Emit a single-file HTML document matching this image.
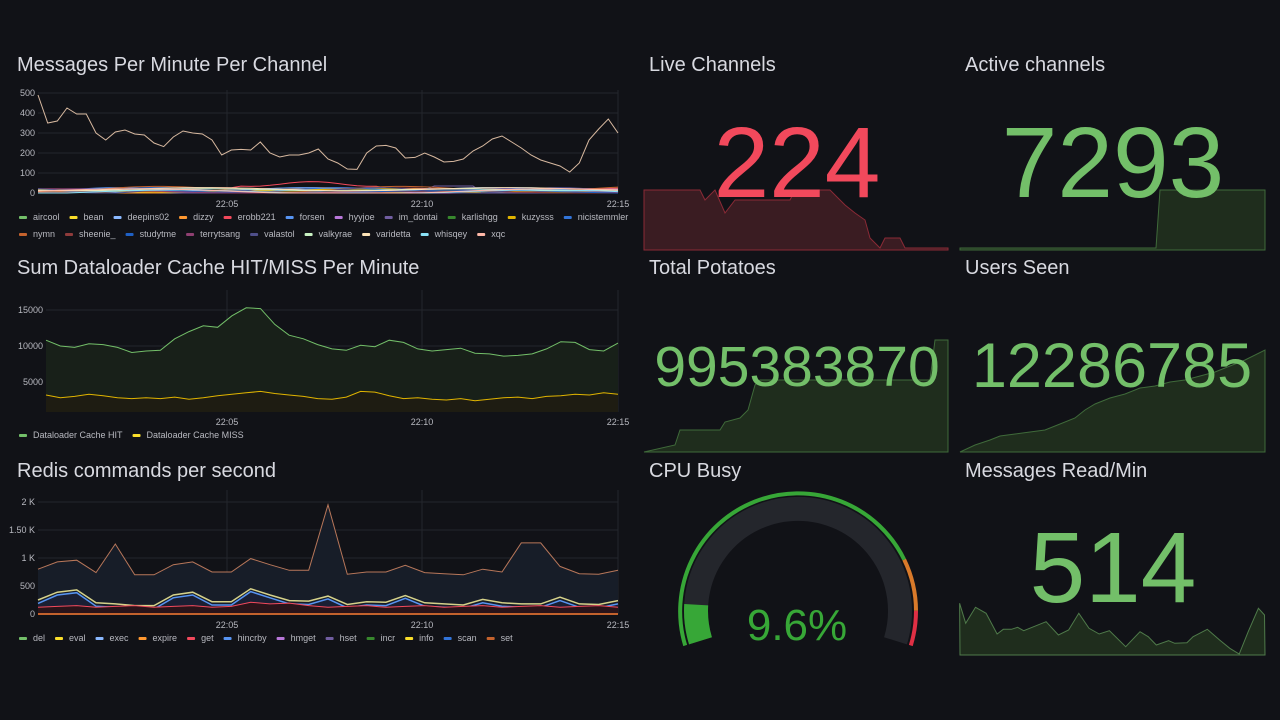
<!DOCTYPE html>
<html><head><meta charset="utf-8"><style>
body{margin:0;width:1280px;height:720px;background:#111217;overflow:hidden;font-family:"Liberation Sans",sans-serif;color:#ccccdc}
svg{position:absolute;left:0;top:0}
</style></head><body>
<svg id="s" width="1280" height="720" xmlns="http://www.w3.org/2000/svg" font-family="Liberation Sans, sans-serif">
<g font-size="20" fill="#d8d9e0">
<text x="17" y="71">Messages Per Minute Per Channel</text>
<text x="17" y="274">Sum Dataloader Cache HIT/MISS Per Minute</text>
<text x="17" y="477">Redis commands per second</text>
<text x="649" y="71">Live Channels</text>
<text x="965" y="71">Active channels</text>
<text x="649" y="274">Total Potatoes</text>
<text x="965" y="274">Users Seen</text>
<text x="649" y="477">CPU Busy</text>
<text x="965" y="477">Messages Read/Min</text>
</g>
<g id="g"></g>
<polygon points="644,250 644,190 700,190 705,200 715,190 725,213 735,200 790,200 795,190 830,190 845,205 855,213 865,220 870,238 880,248 885,238 900,238 905,248 948,248 948,250" fill="#3a1c22" stroke="#8a2a36" stroke-width="1"/>
<text x="797" y="197" font-size="100" fill="#f2495c" text-anchor="middle">224</text>
<polygon points="960,250 960,248 1156,248 1160,190 1265,190 1265,250" fill="#1f2d1d" stroke="#3f6a3a"/>
<text x="1113" y="197" font-size="100" fill="#73bf69" text-anchor="middle">7293</text>
<polygon points="644,452 675,445 680,430 720,430 725,422 740,418 748,410 755,385 760,380 930,380 935,340 948,340 948,452" fill="#1f2d1d" stroke="#3f6a3a"/>
<text x="797" y="386" font-size="57" fill="#73bf69" text-anchor="middle">995383870</text>
<polygon points="960,452 975,445 990,440 1000,436 1015,434 1030,432 1045,430 1060,424 1075,418 1085,410 1095,404 1110,398 1125,394 1140,388 1155,386 1170,382 1185,380 1200,376 1215,372 1230,366 1245,360 1265,350 1265,452" fill="#1f2d1d" stroke="#3f6a3a"/>
<text x="1112" y="387" font-size="63" fill="#73bf69" text-anchor="middle">12286785</text>
<polygon id="mr" fill="#1f2d1d" stroke="#4f7a4a"/>
<text x="1113" y="602" font-size="100" fill="#73bf69" text-anchor="middle">514</text>
<g id="gauge"></g>
<text x="797" y="640" font-size="44" fill="#37a737" text-anchor="middle">9.6%</text>
</svg>
<script>
const NS="http://www.w3.org/2000/svg",g=document.getElementById('g');
function el(t,a,p){const e=document.createElementNS(NS,t);for(const k in a)e.setAttribute(k,a[k]);(p||g).appendChild(e);return e}
function txt(x,y,s,a,fs,fill){const e=el('text',{x,y,'font-size':fs||9,fill:fill||'#b8b9c0','text-anchor':a||'start'});e.textContent=s;return e}
function chart(x0,x1,yTop,y0,yb,lx,ticks,scale,series,xlab){
  ticks.forEach(([v,l])=>{const y=y0-v*scale;el('line',{x1:x0,x2:x1,y1:y,y2:y,stroke:'#24262c'});txt(lx,y+3,l,'end')});
  [227,422,618].forEach((x,i)=>{el('line',{x1:x,x2:x,y1:yTop,y2:yb,stroke:'#24262c'});txt(x,xlab,['22:05','22:10','22:15'][i],'middle')});
  series.forEach(s=>{const n=s.d.length,st=(x1-x0)/(n-1);const pts=s.d.map((v,i)=>(x0+i*st).toFixed(1)+','+Math.min(yb,y0-v*scale).toFixed(1)).join(' ');
   if(s.fill)el('polygon',{points:x0+','+yb+' '+pts+' '+x1+','+yb,fill:s.fill});
   el('polyline',{points:pts,fill:'none',stroke:s.c,'stroke-width':s.w||1})});
}
function legend(y,items){let cx=19;items.forEach(([n,c])=>{el('rect',{x:cx,y:y-3,width:8,height:3,rx:1,fill:c});const t=txt(cx+14,y+1,n,'start',9,'#b8b9c0');cx+=14+t.getComputedTextLength()+10})}
const main=[490,350,360,425,395,395,300,265,305,315,295,290,250,232,280,310,300,295,265,190,215,218,215,255,200,180,190,190,200,220,170,150,120,118,200,235,238,225,175,178,200,180,155,158,170,210,235,270,285,255,225,190,165,150,135,105,150,265,320,370,300];
const cols1=['#73bf69','#fade2a','#8ab8ff','#ff9830','#f2495c','#5794f2','#b877d9','#705da0','#37872d','#e0b400','#3274d9','#c4622d','#8f3b3b','#1f60c4','#8f3f71','#4f4f8a','#c8f2c2','#fce2b6','#8ae1f6','#ffb8a8'];
const ser1=cols1.map((c,i)=>({c,d:Array.from({length:61},(_,k)=>Math.max(0,(4+(i%6)*3)+(5+(i%4)*3)*Math.sin(k/(3+i%5)+i)))}));
ser1[4].d=ser1[4].d.map((v,k)=>k>20&&k<36?45+Math.sin(k/2)*12:v+8);
ser1[7].d=ser1[7].d.map((v,k)=>k>40&&k<46?35:v);
ser1.push({c:'#d8b9a0',d:main});
chart(38,618,90,193,193,35,[[0,'0'],[100,'100'],[200,'200'],[300,'300'],[400,'400'],[500,'500']],0.2,ser1,207);
legend(219,[['aircool','#73bf69'],['bean','#fade2a'],['deepins02','#8ab8ff'],['dizzy','#ff9830'],['erobb221','#f2495c'],['forsen','#5794f2'],['hyyjoe','#b877d9'],['im_dontai','#705da0'],['karlishgg','#37872d'],['kuzysss','#e0b400'],['nicistemmler','#3274d9']]);
legend(236,[['nymn','#c4622d'],['sheenie_','#8f3b3b'],['studytme','#1f60c4'],['terrytsang','#8f3f71'],['valastol','#4f4f8a'],['valkyrae','#c8f2c2'],['varidetta','#fce2b6'],['whisqey','#8ae1f6'],['xqc','#ffb8a8']]);
const hit=[10800,10000,9800,10300,10200,9800,9100,9300,9400,11000,12000,12800,12600,14200,15300,15200,13000,11500,11000,10200,9600,9400,10100,9900,10800,10500,9600,9300,9500,9700,9000,8900,8600,8700,8900,9600,10600,10500,9500,9300,10400];
const miss=[3200,2800,3000,3300,3100,2800,2700,2800,2700,2900,2600,2800,3100,3300,3500,3700,3400,3200,3000,2700,2600,2900,3700,3600,3100,2700,2800,2600,2500,2700,2400,2600,2800,2900,2700,3000,3100,3300,3200,3500,3300];
chart(46,618,290,418,412,43,[[5000,'5000'],[10000,'10000'],[15000,'15000']],0.0072,[{c:'#73bf69',d:hit,fill:'#182019'},{c:'#e0b400',d:miss,fill:'#1e1c12'}],425);
legend(437,[['Dataloader Cache HIT','#73bf69'],['Dataloader Cache MISS','#fade2a']]);
const set=[800,930,960,740,1250,700,700,880,930,750,750,990,880,780,780,1950,710,750,750,870,740,720,700,800,750,1270,1270,850,720,710,780];
const yel=[250,390,430,200,180,150,150,340,390,220,220,450,340,240,230,320,170,220,210,330,200,180,160,260,200,180,180,300,180,170,240];
const blu=yel.map(v=>v>300?v-50:v-60);
const red=yel.map((v,i)=>120+(i%3)*15+(i>10&&i<14?60:0));
chart(38,618,490,614,614,35,[[0,'0'],[500,'500'],[1000,'1 K'],[1500,'1.50 K'],[2000,'2 K']],0.056,
[{c:'#b8775a',d:set,fill:'#171d28'},{c:'#d6d28a',d:yel,w:1.5},{c:'#5794f2',d:blu,w:1.5,fill:'#1a1f33'},{c:'#f2495c',d:red,fill:'#2a141a'},{c:'#c4622d',d:set.map(()=>0),w:2}],628);
legend(640,[['del','#73bf69'],['eval','#fade2a'],['exec','#8ab8ff'],['expire','#ff9830'],['get','#f2495c'],['hincrby','#5794f2'],['hmget','#b877d9'],['hset','#705da0'],['incr','#37872d'],['info','#fade2a'],['scan','#3274d9'],['set','#c4622d']]);
// messages read sparkline
const z=[[783,370],[798,430],[822,382],[848,400],[875,462],[890,448],[910,448],[925,442],[940,452],[995,425],[1025,465],[1050,450],[1075,400],[1100,445],[1125,462],[1150,452],[1190,500],[1225,455],[1245,470],[1265,495],[1295,482],[1310,490],[1340,488],[1355,470],[1390,448],[1420,480],[1445,505],[1468,522],[1490,455],[1515,385],[1530,405]];
const mp=z.map(([a,b])=>(640+a/2.45).toFixed(1)+','+(480+b/3).toFixed(1));
document.getElementById('mr').setAttribute('points','960,655 '+mp.join(' ')+' 1265,655');
const gg=document.getElementById('gauge'),cx=798,cy=611;
function arc(r,a0,a1){const p=a=>[cx+r*Math.cos(a*Math.PI/180),cy-r*Math.sin(a*Math.PI/180)];const[x0,y0]=p(a0),[x1,y1]=p(a1);return `M${x0.toFixed(1)},${y0.toFixed(1)} A${r},${r} 0 ${Math.abs(a0-a1)>180?1:0} 1 ${x1.toFixed(1)},${y1.toFixed(1)}`}
const A0=197,A1=-17,span=A0-A1;
el('path',{d:arc(102,A0,A1),fill:'none',stroke:'#24262c','stroke-width':24},gg);
el('path',{d:arc(102,A0,A0-span*0.096),fill:'none',stroke:'#37a737','stroke-width':24},gg);
el('path',{d:arc(118,A0,A0-span*0.8),fill:'none',stroke:'#37a737','stroke-width':4},gg);
el('path',{d:arc(118,A0-span*0.8,A0-span*0.92),fill:'none',stroke:'#d97a2a','stroke-width':4},gg);
el('path',{d:arc(118,A0-span*0.92,A1),fill:'none',stroke:'#e02f44','stroke-width':4},gg);
</script>
</body></html>
